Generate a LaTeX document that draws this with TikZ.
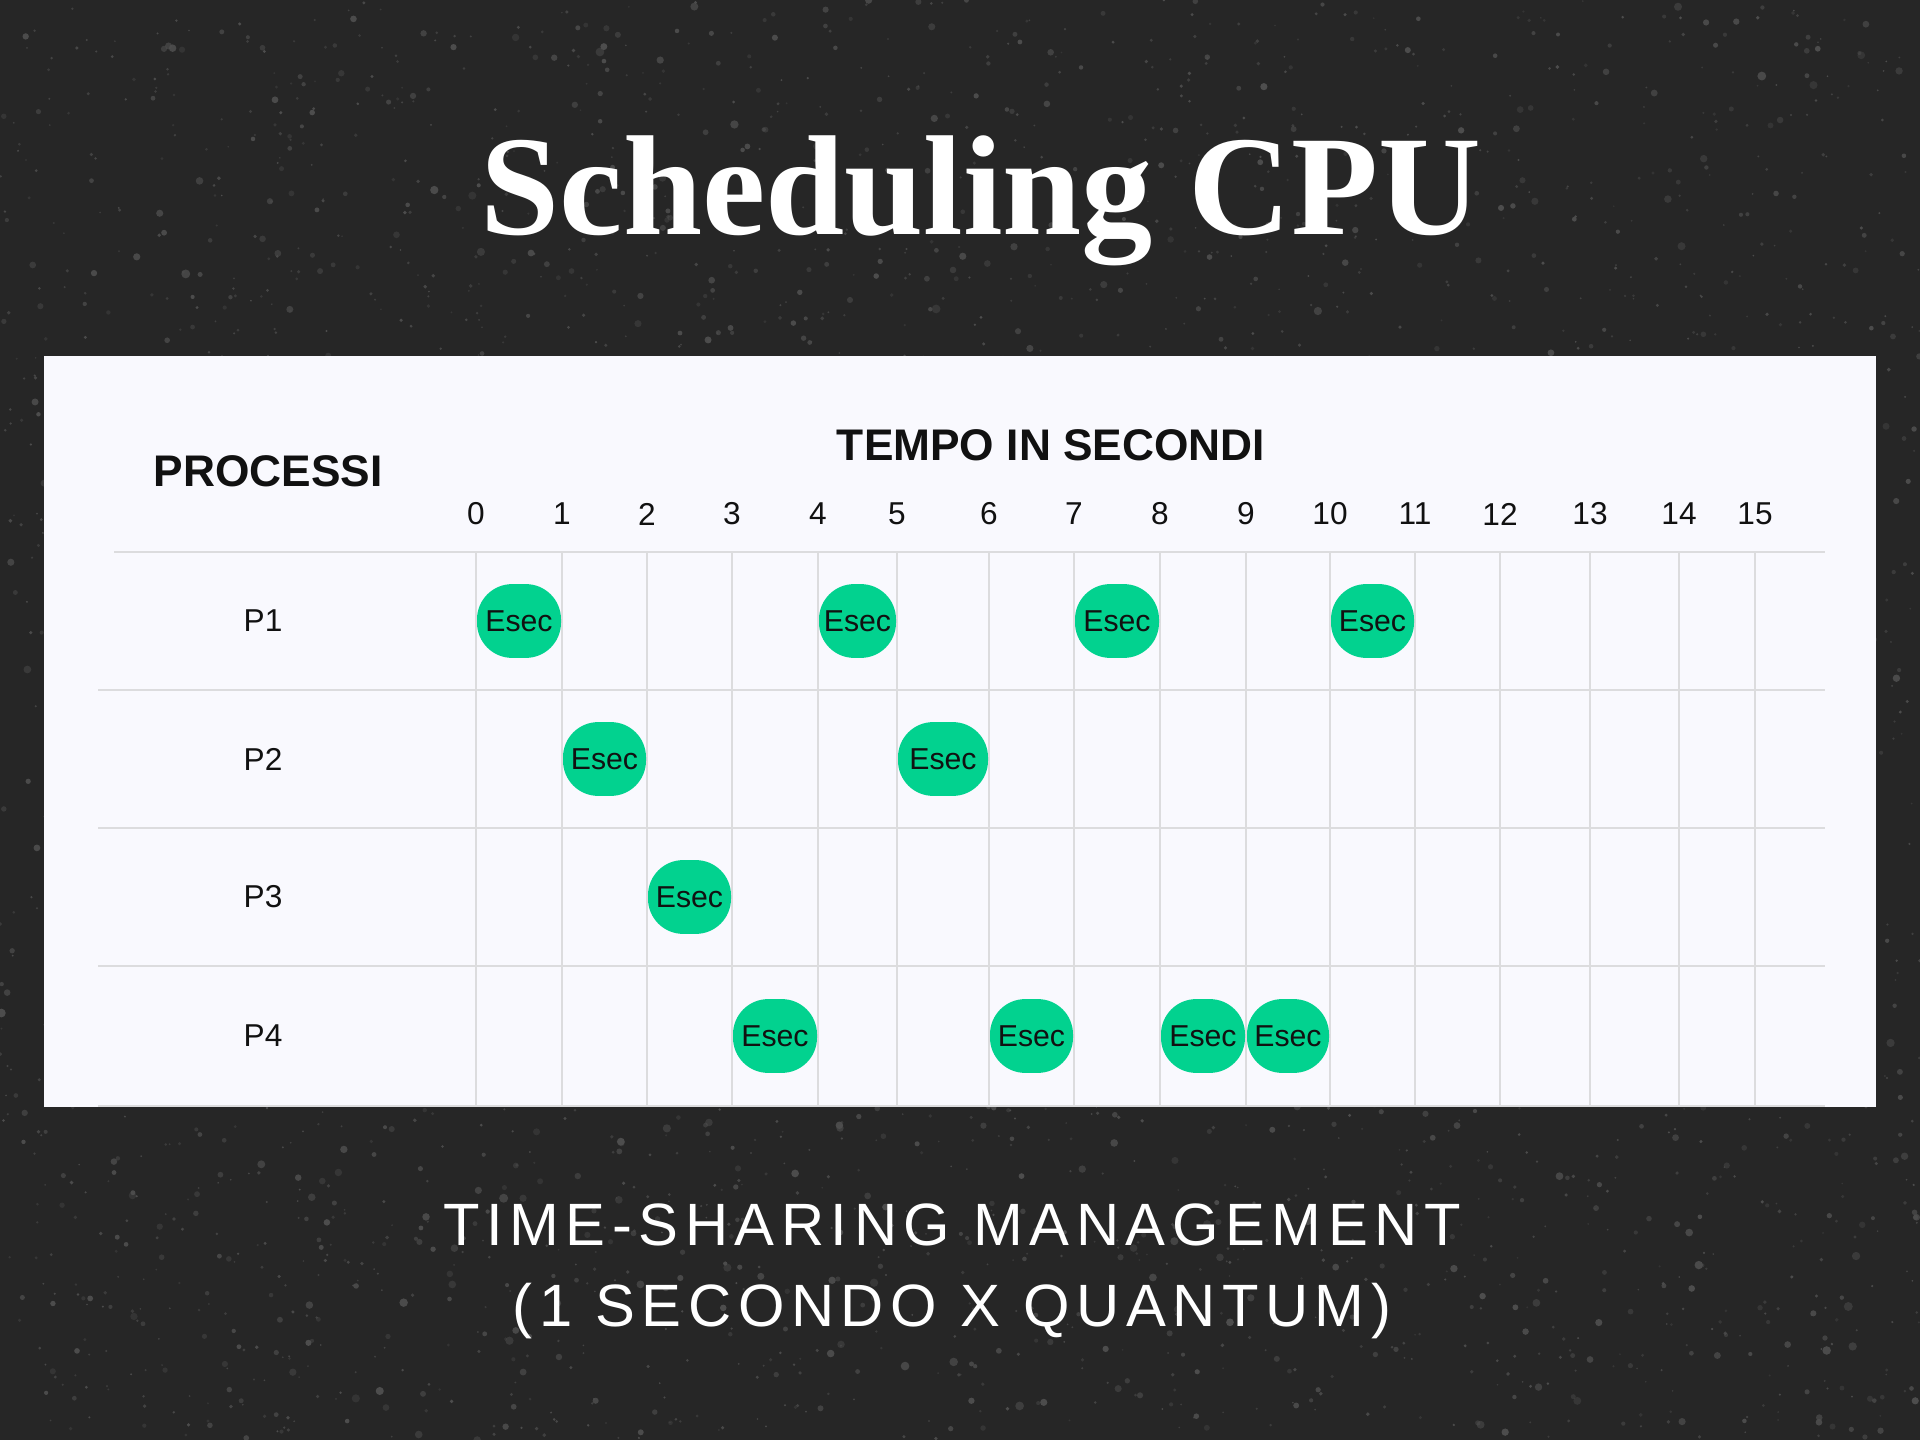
\documentclass[tikz,border=0pt]{standalone}
\usepackage{fontspec}
\setmainfont{Liberation Sans}
\newfontfamily\titlefont{Liberation Serif}
\newfontfamily\subfont[LetterSpace=11]{Liberation Sans}
\usetikzlibrary{positioning,calc}

\definecolor{bgdark}{HTML}{262626}
\definecolor{speckgray}{HTML}{4E4E4E}
\definecolor{panelwhite}{HTML}{F9F9FE}
\definecolor{gridgray}{HTML}{DCDCDE}
\definecolor{execgreen}{HTML}{02D28F}
\definecolor{inkblack}{HTML}{111111}

\tikzset{
  esec/.style={fill=execgreen, rounded corners=10pt, minimum height=21pt,
    inner sep=0pt, text=inkblack, font=\fontsize{8.6}{10}\selectfont},
  gridline/.style={draw=gridgray, line width=0.7pt},
  ticklabel/.style={text=inkblack, font=\fontsize{9}{11}\selectfont},
  proclabel/.style={text=inkblack, font=\fontsize{9}{11}\selectfont},
  heading/.style={text=inkblack, font=\bfseries\fontsize{12.6}{15}\selectfont},
}

\begin{document}
\begin{tikzpicture}[x=0.1mm,y=-0.1mm]
\useasboundingbox (0,0) rectangle (1920,1440);
\fill[bgdark] (0,0) rectangle (1920,1440);

% speckled background
\begin{scope}
\clip (0,0) rectangle (1920,1440);
\pgfmathsetseed{7}
\foreach \i in {1,...,4000} {
  \pgfmathsetmacro\rr{0.25+1.1*rnd*rnd}
  \pgfmathsetmacro\op{0.35+0.65*rnd}
  \fill[speckgray, opacity=\op] ({1920*rnd},{1440*rnd}) circle (\rr pt);
}
\end{scope}

\node[text=white, anchor=base, font=\titlefont\bfseries\fontsize{40.5}{48}\selectfont]
  (title) at (981,235) {Scheduling CPU};

\fill[panelwhite] (44,356) rectangle (1876,1107);

\node[heading] (procs) at (268,471) {PROCESSI};
\node[heading] (tempo) at (1051,445) {TEMPO IN SECONDI};

\def\xs{{476,562,647,732,818,897,989,1074,1160,1246,1330,1415,1500,1590,1679,1755}}

\draw[gridline] (114,552) -- (1825,552);
\foreach \y in {690,828,966,1106}
  \draw[gridline] (98,\y) -- (1825,\y);

\foreach \k in {0,...,15} {
  \pgfmathsetmacro\x{\xs[\k]}
  \coordinate (v\k) at (\x,552);
  \draw[gridline] (v\k) -- (\x,1106);
  \node[ticklabel] (t\k) at (\x,514) {\k};
}

\foreach \r/\y in {1/621,2/759,3/897,4/1036}
  \node[proclabel] (p\r) at (263,\y) {P\r};

% quanti in esecuzione
\foreach \r/\y/\k in {1/621/0,1/621/4,1/621/7,1/621/10,
                      2/759/1,2/759/5,
                      3/897/2,
                      4/1036/3,4/1036/6,4/1036/8,4/1036/9} {
  \pgfmathsetmacro\xa{\xs[\k]}
  \pgfmathsetmacro\xb{\xs[\k+1]}
  \pgfmathsetmacro\w{(\xb-\xa-2)*0.28453}
  \node[esec, minimum width=\w pt] (e\r-\k) at ({(\xa+\xb)/2},\y) {Esec};
}

\node[text=white, anchor=base, font=\subfont\fontsize{17}{20}\selectfont]
  (sub1) at (952,1245) {TIME-SHARING MANAGEMENT};
\node[text=white, anchor=base, font=\subfont\fontsize{17}{20}\selectfont]
  (sub2) at (952,1326) {(1 SECONDO X QUANTUM)};
\end{tikzpicture}
\end{document}
